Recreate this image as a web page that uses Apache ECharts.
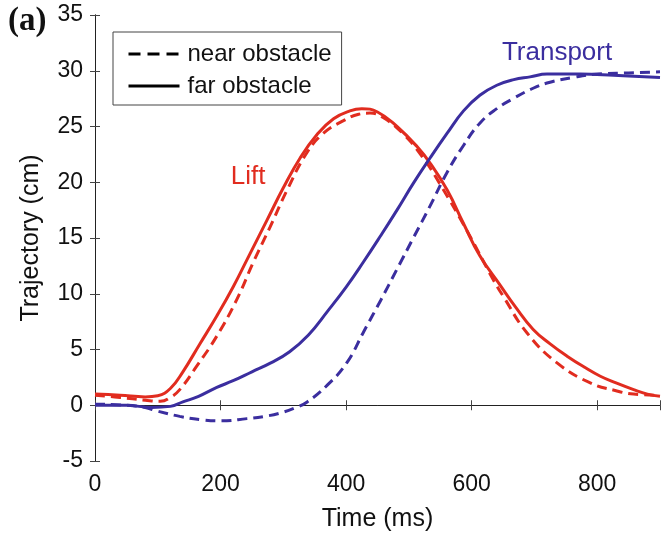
<!DOCTYPE html>
<html>
<head>
<meta charset="utf-8">
<script src="https://cdn.jsdelivr.net/npm/echarts@6/dist/echarts.min.js"></script>
<style>
html,body{margin:0;padding:0;background:#fff;}
#chart{width:663px;height:537px;}
</style>
</head>
<body>
<div id="chart"></div>
<script>
// ---- Data ----
var xTicks = [0, 200, 400, 600, 800];
var yTicks = [-5, 0, 5, 10, 15, 20, 25, 30, 35];

var liftFarX = [0, 40, 80, 100, 120, 140, 167, 194, 220, 247, 274, 300, 327, 354, 380, 406, 425, 450, 481, 513, 534, 561, 587, 613, 645, 670, 698, 725, 752, 780, 805, 830, 858, 880, 900];
var liftFarY = [1.0, 0.9, 0.75, 0.85, 1.5, 3.0, 5.5, 8.0, 10.6, 13.6, 16.6, 19.5, 22.2, 24.3, 25.7, 26.4, 26.6, 26.3, 25.0, 23.2, 21.7, 19.3, 16.3, 13.4, 10.8, 8.8, 6.8, 5.5, 4.4, 3.4, 2.6, 2.0, 1.4, 1.0, 0.8];

var liftNearX = [0, 40, 80, 104, 120, 135, 162, 194, 226, 252, 279, 306, 337, 364, 395, 420, 438, 459, 490, 520, 550, 593, 634, 650, 688, 736, 789, 830, 858, 900];
var liftNearY = [0.9, 0.7, 0.45, 0.35, 0.7, 1.4, 3.5, 6.2, 9.5, 12.8, 16.0, 19.3, 22.6, 24.4, 25.5, 26.1, 26.2, 25.8, 24.4, 22.4, 19.8, 15.6, 11.3, 9.8, 6.5, 3.8, 2.0, 1.3, 1.0, 0.9];

var transFarX = [0, 50, 90, 120, 140, 165, 194, 220, 250, 280, 310, 340, 370, 400, 427, 455, 481, 507, 534, 561, 587, 613, 640, 667, 693, 720, 773, 826, 900];
var transFarY = [0.0, 0.0, -0.2, -0.1, 0.3, 0.8, 1.6, 2.2, 3.0, 3.8, 4.8, 6.3, 8.4, 10.6, 12.8, 15.2, 17.5, 19.9, 22.2, 24.4, 26.4, 27.8, 28.7, 29.2, 29.45, 29.7, 29.7, 29.6, 29.4];

var transNearX = [0, 50, 80, 98, 135, 170, 200, 242, 270, 295, 320, 338, 370, 401, 428, 455, 481, 507, 534, 561, 587, 613, 640, 666, 693, 720, 762, 800, 850, 900];
var transNearY = [0.1, 0.0, -0.2, -0.5, -1.0, -1.3, -1.4, -1.2, -1.0, -0.7, -0.2, 0.3, 1.8, 3.8, 6.6, 9.4, 12.2, 15.0, 17.9, 20.9, 23.3, 25.3, 26.6, 27.5, 28.3, 28.9, 29.4, 29.7, 29.8, 29.9];

var liftLabelPos = [244, 20.5];
var transLabelPos = [736, 31.6];

function pairs(xs, ys) { return xs.map(function (x, i) { return [x, ys[i]]; }); }

var RED = '#e12c1f';
var BLUE = '#3b2e9f';
var FONT = '"Liberation Sans", Arial, sans-serif';
var DASH = [10, 6];
var SMOOTH = 0.45;

var chart = echarts.init(document.getElementById('chart'), null, {renderer: 'canvas'});

var xBase = {
  type: 'value', min: 0, max: 900, interval: 200,
  axisLine: {show: true, lineStyle: {color: '#222', width: 1}},
  axisTick: {show: true, inside: true, length: 5, lineStyle: {color: '#444'}},
  splitLine: {show: false}
};
var yBase = {
  type: 'value', min: -5, max: 35, interval: 5,
  axisLine: {show: true, lineStyle: {color: '#222', width: 1}},
  axisTick: {show: true, inside: true, length: 5, lineStyle: {color: '#444'}},
  splitLine: {show: false}
};

var option = {
  animation: false,
  backgroundColor: '#fff',
  grid: {left: 95, top: 15, right: 3, bottom: 75, containLabel: false},
  xAxis: [
    Object.assign({}, xBase, {
      position: 'bottom',
      name: 'Time (ms)', nameLocation: 'middle', nameGap: 46,
      nameTextStyle: {fontFamily: FONT, fontSize: 25, color: '#111'},
      axisLabel: {fontFamily: FONT, fontSize: 23, color: '#111', margin: 12,
        formatter: function (v) { return xTicks.indexOf(v) >= 0 ? String(v) : ''; }}
    }),
    Object.assign({}, xBase, {position: 'top', axisLabel: {show: false}})
  ],
  yAxis: [
    Object.assign({}, yBase, {
      position: 'left',
      name: 'Trajectory (cm)', nameLocation: 'middle', nameGap: 51,
      nameTextStyle: {fontFamily: FONT, fontSize: 25, color: '#111'},
      axisLabel: {fontFamily: FONT, fontSize: 23, color: '#111', margin: 12,
        formatter: function (v) { return yTicks.indexOf(v) >= 0 ? String(v) : ''; }}
    }),
    Object.assign({}, yBase, {position: 'right', axisLabel: {show: false}})
  ],
  legend: {
    orient: 'vertical', left: 113, top: 32,
    backgroundColor: '#fff',
    borderColor: '#444', borderWidth: 1,
    padding: [10, 10, 7, 14],
    itemWidth: 51, itemHeight: 14, itemGap: 8,
    lineStyle: {width: 3},
    textStyle: {fontFamily: FONT, fontSize: 24, color: '#111', padding: [0, 0, 0, 3]},
    data: ['near obstacle', 'far obstacle']
  },
  graphic: [
    {type: 'text', left: 8, top: 5,
     style: {text: '(a)', font: 'bold 33px "Liberation Serif", "Times New Roman", serif', fill: '#111'}}
  ],
  series: [
    {name: 'near obstacle', type: 'line', data: [], symbol: 'none',
     itemStyle: {color: '#000', opacity: 0}, lineStyle: {color: '#000', width: 3, type: [12, 7]}},
    {name: 'far obstacle', type: 'line', data: [], symbol: 'none',
     itemStyle: {color: '#000', opacity: 0}, lineStyle: {color: '#000', width: 3}},
    {name: 'Lift near', type: 'line', data: pairs(liftNearX, liftNearY), smooth: SMOOTH, symbol: 'none',
     lineStyle: {color: RED, width: 3, type: DASH}, z: 3},
    {name: 'Lift far', type: 'line', data: pairs(liftFarX, liftFarY), smooth: SMOOTH, symbol: 'none',
     lineStyle: {color: RED, width: 3}, z: 4,
     markPoint: {symbol: 'circle', symbolSize: 0, silent: true,
       label: {show: true, position: 'inside', formatter: 'Lift', fontFamily: FONT, fontSize: 26, color: RED},
       data: [{coord: liftLabelPos}]}},
    {name: 'Transport near', type: 'line', data: pairs(transNearX, transNearY), smooth: SMOOTH, symbol: 'none',
     lineStyle: {color: BLUE, width: 3, type: DASH}, z: 3},
    {name: 'Transport far', type: 'line', data: pairs(transFarX, transFarY), smooth: SMOOTH, symbol: 'none',
     lineStyle: {color: BLUE, width: 3}, z: 4,
     markPoint: {symbol: 'circle', symbolSize: 0, silent: true,
       label: {show: true, position: 'inside', formatter: 'Transport', fontFamily: FONT, fontSize: 26, color: BLUE},
       data: [{coord: transLabelPos}]}}
  ]
};
chart.setOption(option);
</script>
</body>
</html>
